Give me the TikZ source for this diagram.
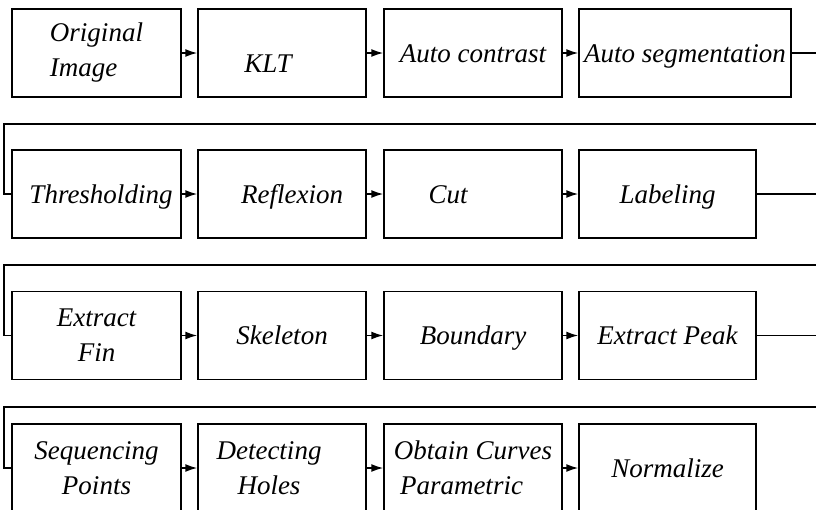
\documentclass[tikz,border=0pt]{standalone}
\usepackage{fontspec}
\setmainfont{Liberation Serif}
\usetikzlibrary{arrows.meta}

\begin{document}
\begin{tikzpicture}[x=1pt,y=-1pt,
					every node/.style = {shape=rectangle, draw, line width=1.5pt,
						minimum height=88pt, align=center,
						font=\fontsize{27}{35}\selectfont\itshape},
					one/.style = {text height=20pt, text depth=2pt},
					col1/.style = {minimum width=169pt},
					col2/.style = {minimum width=168pt},
					col3/.style = {minimum width=178pt},
					col4/.style = {minimum width=177pt},
					link/.style = {line width=1.5pt, -{Latex[length=12pt,width=8pt]}},
					wrap/.style = {line width=1.5pt}]
	\useasboundingbox (0,0) rectangle (816,509);
	\clip (0,0) rectangle (816,509);
	% first row
	\node[col1, align=left] (orig) at (96.5,53) {Original\\Image};
	\node[col2, one] (klt) at (282,53) {\raisebox{-10pt}{KLT}\hspace*{28pt}};
	\node[col3, one] (contrast) at (473,53) {Auto contrast};
	\node[one, minimum width=212pt] (autoseg) at (685,53) {Auto segmentation};
	% second row
	\node[col1, one] (thresh) at (96.5,194) {\hspace*{9pt}Thresholding};
	\node[col2, one] (reflex) at (282,194) {\hspace*{20pt}Reflexion};
	\node[col3, one] (cut) at (473,194) {Cut\hspace*{50pt}};
	\node[col4, one] (label) at (667.5,194) {Labeling};
	% third row
	\node[col1] (extfin) at (96.5,335.5) {Extract\\Fin};
	\node[col2, one] (skel) at (282,335.5) {Skeleton};
	\node[col3, one] (bound) at (473,335.5) {Boundary};
	\node[col4, one] (peak) at (667.5,335.5) {Extract Peak};
	% fourth row
	\node[col1] (seq) at (96.5,468) {Sequencing\\Points};
	\node[col2] (holes) at (282,468) {Detecting\hspace*{26pt}\\Holes\hspace*{26pt}};
	\node[col3] (curves) at (473,468) {Obtain Curves\\Parametric\hspace*{23pt}};
	\node[col4, one] (norm) at (667.5,468) {Normalize};

	\foreach \a/\b in {orig/klt, klt/contrast, contrast/autoseg,
		thresh/reflex, reflex/cut, cut/label,
		extfin/skel, skel/bound, bound/peak,
		seq/holes, holes/curves, curves/norm}
		\draw[link] (\a.east) -- (\b.west);

	% going back to the next row
	\draw[wrap] (autoseg.east) -- ++(60,0) |- (4,124) |- (thresh.west);
	\draw[wrap] (label.east) -- ++(90,0) |- (4,265) |- (extfin.west);
	\draw[wrap] (peak.east) -- ++(90,0) |- (4,407) |- (seq.west);
\end{tikzpicture}
\end{document}
